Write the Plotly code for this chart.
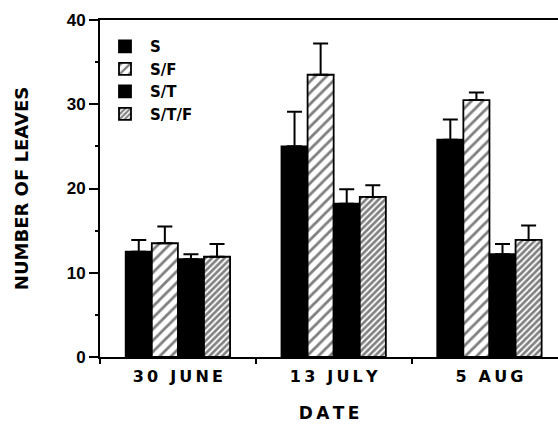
import plotly.graph_objects as go

dates = ["30 JUNE", "13 JULY", "5 AUG"]
series_names = ["S", "S/F", "S/T", "S/T/F"]
s_vals = [12.5, 25.0, 25.8]
s_err = [1.4, 4.1, 2.4]
sf_vals = [13.5, 33.5, 30.5]
sf_err = [2.0, 3.7, 0.9]
st_vals = [11.6, 18.2, 12.2]
st_err = [0.6, 1.7, 1.2]
stf_vals = [11.9, 19.0, 13.9]
stf_err = [1.5, 1.4, 1.7]
y_ticks = [0, 10, 20, 30, 40]

FONT = "DejaVu Sans"
THIN = "\u2009"


def spaced(txt):
    return THIN.join(list(txt))


styles = [
    dict(color="black", pattern=None),
    dict(color="white", pattern=dict(shape="/", size=8, solidity=0.35, fgcolor="black", bgcolor="white")),
    dict(color="black", pattern=None),
    dict(color="white", pattern=dict(shape="/", size=4.5, solidity=0.6, fgcolor="black", bgcolor="white")),
]
vals = [s_vals, sf_vals, st_vals, stf_vals]
errs = [s_err, sf_err, st_err, stf_err]

fig = go.Figure()
for name, v, e, st in zip(series_names, vals, errs, styles):
    marker = dict(color=st["color"], line=dict(color="black", width=1.8))
    if st["pattern"]:
        marker["pattern"] = st["pattern"]
    fig.add_trace(go.Bar(
        x=dates, y=v, name="<b>" + name + "</b>", marker=marker,
        error_y=dict(type="data", array=e, arrayminus=[0] * len(e), symmetric=False,
                     color="black", thickness=2, width=7.5),
    ))

fig.update_layout(
    width=558, height=425,
    margin=dict(l=100, r=0, t=20, b=68),
    paper_bgcolor="white", plot_bgcolor="white",
    barmode="group", bargap=0.33, bargroupgap=0,
    font=dict(family=FONT, size=15, color="black"),
    showlegend=True,
    legend=dict(x=0.0, y=0.97, xanchor="left", yanchor="top",
                bgcolor="rgba(0,0,0,0)", font=dict(size=15, family=FONT),
                tracegroupgap=0, itemwidth=40),
    xaxis=dict(
        type="category", range=[-0.5, 2.44],
        tickson="boundaries", ticks="outside", ticklen=5, tickwidth=2, tickcolor="black",
        showline=True, linecolor="black", linewidth=2, mirror=True,
        tickvals=dates, ticktext=["<b>" + spaced(d) + "</b>" for d in dates],
        tickfont=dict(size=16, family=FONT), ticklabelstandoff=4,
        title=dict(text="<b>" + spaced("DATE") + "</b>", font=dict(size=17, family=FONT), standoff=22),
        showgrid=False, zeroline=False,
    ),
    yaxis=dict(
        range=[0, 40], tickvals=y_ticks, ticks="outside", ticklen=9, tickwidth=2, tickcolor="black",
        showline=True, linecolor="black", linewidth=2,
        minor=dict(dtick=5, ticks="outside", ticklen=3, tickwidth=2, tickcolor="black"),
        tickfont=dict(size=17, family="Liberation Sans", weight="bold"),
        title=dict(text="<b>NUMBER OF LEAVES</b>", font=dict(size=18, family=FONT), standoff=33),
        showgrid=False, zeroline=False,
    ),
)

fig.write_html("out.html")
